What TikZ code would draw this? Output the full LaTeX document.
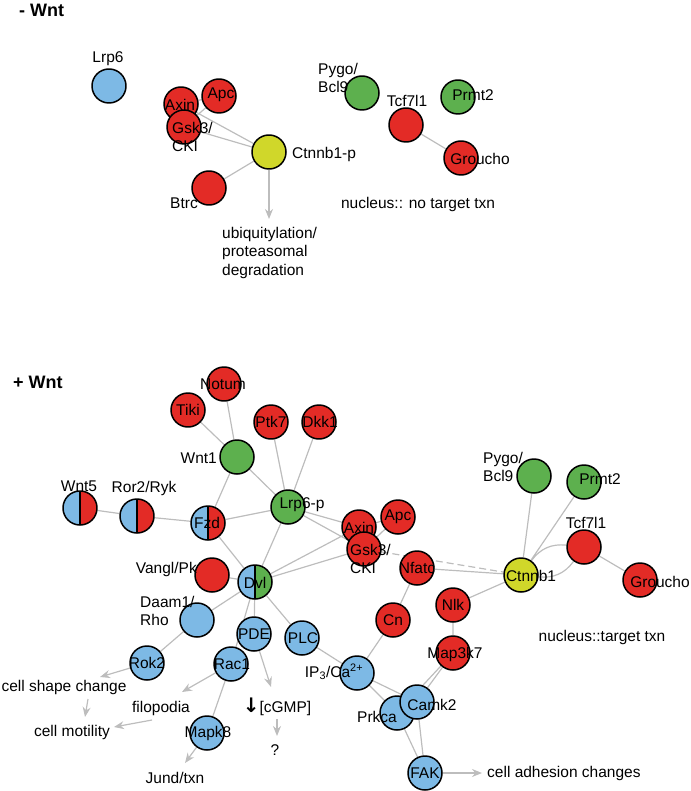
\documentclass[tikz,border=0pt]{standalone}
\usepackage{fontspec}
\setmainfont{Liberation Sans}
\newfontfamily\arrowfont{DejaVu Sans}
\usetikzlibrary{arrows.meta,backgrounds}
\definecolor{molred}{HTML}{E32B26}
\definecolor{molblue}{HTML}{7DB9E5}
\definecolor{molgreen}{HTML}{5DB04E}
\definecolor{molyellow}{HTML}{D0D72A}
\definecolor{edgegray}{HTML}{BDBDBD}
\begin{document}
\begin{tikzpicture}[x=1pt, y=-1pt, font=\fontsize{15.5}{18.5}\selectfont, line join=round, line cap=round,
    >={Stealth[length=10pt,width=8pt]},
    mol/.style={circle, draw=black, line width=1.5pt, fill=#1, minimum size=34pt, inner sep=0pt},
    splitmol/.style 2 args={circle, draw=black, line width=1.5pt, minimum size=34pt, inner sep=0pt,
        path picture={\fill[#1] (path picture bounding box.south west) rectangle (path picture bounding box.north);
            \fill[#2] (path picture bounding box.south) rectangle (path picture bounding box.north east);
            \draw[line width=1.3pt] (path picture bounding box.south) -- (path picture bounding box.north);}},
    txt/.style={inner sep=0pt},
    link/.style={draw=edgegray, line width=1.2pt},
    arr/.style={link, ->}]
    \useasboundingbox (0,0) rectangle (690,791);
    % - Wnt
    \node[txt, anchor=west, font=\fontsize{18}{20}\selectfont\bfseries] (offtitle) at (19,10) {- Wnt};
    \node[mol=molblue] (tlrp) at (109,86) {};
    \node[mol=molred] (taxin) at (181,104) {};
    \node[mol=molred] (tapc) at (219,96) {};
    \node[mol=molred] (tgsk) at (184,127) {};
    \node[mol=molyellow] (tctnp) at (269,152) {};
    \node[mol=molred] (tbtrc) at (209,188) {};
    \node[mol=molgreen] (tpygo) at (362,93) {};
    \node[mol=molgreen] (tprmt) at (458,97) {};
    \node[mol=molred] (ttcf) at (406,125) {};
    \node[mol=molred] (tgro) at (461,158) {};
    \coordinate (tdeg) at (269,219);
    \node[txt] (ltlrp) at (108,59) {Lrp6};
    \node[txt] (ltaxin) at (180,105) {Axin};
    \node[txt] (ltapc) at (221,95) {Apc};
    \node[txt, anchor=west, align=left] (ltgsk) at (172,137) {Gsk3/\\CKI};
    \node[txt, anchor=west] (ltctnp) at (292,154) {Ctnnb1-p};
    \node[txt, anchor=east] (ltbtrc) at (198,203) {Btrc};
    \node[txt, anchor=north west, align=left] (ltdeg) at (222,227) {ubiquitylation/\\proteasomal\\degradation};
    \node[txt, anchor=west, align=left] (ltpygo) at (318,78) {Pygo/\\Bcl9};
    \node[txt] (ltprmt) at (473,95) {Prmt2};
    \node[txt] (lttcf) at (407,101) {Tcf7l1};
    \node[txt] (ltgro) at (480,159) {Groucho};
    \node[txt] (ltnuc) at (418,204) {nucleus:: no target txn};
    \begin{scope}[on background layer]
        \draw[link] (taxin) -- (tapc) (tapc) -- (tgsk) (taxin) -- (tctnp) (tgsk) -- (tctnp) (tbtrc) -- (tctnp) (ttcf) -- (tgro);
        \draw[arr] (tctnp) -- (tdeg);
    \end{scope}
    % + Wnt
    \node[txt, anchor=west, font=\fontsize{18}{20}\selectfont\bfseries] (ontitle) at (13,382) {+ Wnt};
    \node[mol=molred] (notum) at (224,384) {};
    \node[mol=molred] (tiki) at (188,410) {};
    \node[mol=molred] (ptk) at (271,422) {};
    \node[mol=molred] (dkk) at (319,422) {};
    \node[mol=molgreen] (wnta) at (237,457) {};
    \node[mol=molgreen] (lrp) at (288,507) {};
    \node[splitmol={molblue}{molred}] (wntb) at (80,508) {};
    \node[splitmol={molblue}{molred}] (ror) at (137,516) {};
    \node[splitmol={molblue}{molred}] (fzd) at (208,523) {};
    \node[mol=molred] (vangl) at (212,575) {};
    \node[splitmol={molblue}{molgreen}] (dvl) at (255,582) {};
    \node[mol=molred] (axin) at (359,527) {};
    \node[mol=molred] (apc) at (398,517) {};
    \node[mol=molred] (gsk) at (364,549) {};
    \node[mol=molred] (nfatc) at (417,568) {};
    \node[mol=molyellow] (ctn) at (521,575) {};
    \node[mol=molgreen] (pygo) at (534,476) {};
    \node[mol=molgreen] (prmt) at (584,482) {};
    \node[mol=molred] (tcf) at (584,547) {};
    \node[mol=molred] (gro) at (640,580) {};
    \node[mol=molred] (nlk) at (453,605) {};
    \node[mol=molred] (cn) at (393,620) {};
    \node[mol=molred] (tak) at (453,653) {};
    \node[mol=molblue] (daam) at (197,620) {};
    \node[mol=molblue] (pde) at (254,634) {};
    \node[mol=molblue] (plc) at (302,638) {};
    \node[mol=molblue] (rok) at (147,663) {};
    \node[mol=molblue] (rac) at (231,664) {};
    \node[mol=molblue] (jnk) at (207,733) {};
    \node[mol=molblue] (ipca) at (357,673) {};
    \node[mol=molblue] (prkca) at (397,713) {};
    \node[mol=molblue] (camk) at (417,702) {};
    \node[mol=molblue] (fak) at (425,773) {};
    \coordinate (shapetip) at (100,677);
    \coordinate (shapea) at (88,699);
    \coordinate (shapeb) at (85,717);
    \coordinate (filotip) at (182,692);
    \coordinate (filoa) at (152,720);
    \coordinate (filob) at (114,727);
    \coordinate (jundtip) at (185,763);
    \coordinate (cgmptip) at (271,687);
    \coordinate (cgmpa) at (277,719);
    \coordinate (cgmpb) at (277,736);
    \coordinate (adhtip) at (482,773);
    \node[txt] (lnotum) at (223,384) {Notum};
    \node[txt] (ltiki) at (188,410) {Tiki};
    \node[txt] (lptk) at (271,422) {Ptk7};
    \node[txt] (ldkk) at (320,422) {Dkk1};
    \node[txt, anchor=east] (lwnta) at (217,458) {Wnt1};
    \node[txt] (llrp) at (302,505) {Lrp6-p};
    \node[txt] (lwntb) at (79,486) {Wnt5};
    \node[txt] (lror) at (144,488) {Ror2/Ryk};
    \node[txt] (lfzd) at (207,523) {Fzd};
    \node[txt, anchor=east] (lvangl) at (197,569) {Vangl/Pk};
    \node[txt] (ldvl) at (255,583) {Dvl};
    \node[txt] (laxin) at (359,528) {Axin};
    \node[txt] (lapc) at (398,517) {Apc};
    \node[txt, anchor=west, align=left] (lgsk) at (350,559) {Gsk3/\\CKI};
    \node[txt] (lnfatc) at (417,568) {Nfatc};
    \node[txt] (lctn) at (531,576) {Ctnnb1};
    \node[txt, anchor=west, align=left] (lpygo) at (483,467) {Pygo/\\Bcl9};
    \node[txt] (lprmt) at (600,479) {Prmt2};
    \node[txt] (ltcf) at (586,523) {Tcf7l1};
    \node[txt] (lgro) at (660,582) {Groucho};
    \node[txt] (lnlk) at (453,605) {Nlk};
    \node[txt] (lcn) at (393,620) {Cn};
    \node[txt] (ltak) at (455,654) {Map3k7};
    \node[txt] (lnuc) at (602,637) {nucleus::target txn};
    \node[txt, anchor=west, align=left] (ldaam) at (140,611) {Daam1/\\Rho};
    \node[txt] (lpde) at (254,634) {PDE};
    \node[txt] (lplc) at (303,638) {PLC};
    \node[txt] (lrok) at (147,663) {Rok2};
    \node[txt] (lrac) at (232,664) {Rac1};
    \node[txt] (ljnk) at (208,733) {Mapk8};
    \node[txt] (lipca) at (334,672) {IP\textsubscript{3}/Ca\textsuperscript{2+}};
    \node[txt] (lcamk) at (432,705) {Camk2};
    \node[txt] (lprkca) at (377,717) {Prkca};
    \node[txt] (lfak) at (425,773) {FAK};
    \node[txt, anchor=west] (ladh) at (487,773) {cell adhesion changes};
    \node[txt] (lshape) at (64,687) {cell shape change};
    \node[txt] (lmot) at (72,732) {cell motility};
    \node[txt] (lfilo) at (161,708) {filopodia};
    \node[txt] (lcgmp) at (277,707) {{\arrowfont\bfseries\fontsize{20}{20}\selectfont ↓}[cGMP]};
    \node[txt] (lq) at (275,750) {?};
    \node[txt] (ljund) at (175,778) {Jund/txn};
    \begin{scope}[on background layer]
        \draw[link] (notum) -- (wnta) (tiki) -- (wnta) (wnta) -- (lrp) (wnta) -- (fzd)
            (ptk) -- (lrp) (dkk) -- (lrp) (wntb) -- (ror) (ror) -- (fzd) (fzd) -- (lrp);
        \draw[link] (fzd) -- (dvl) (lrp) -- (dvl) (lrp) -- (axin) (lrp) -- (gsk) (vangl) -- (dvl)
            (dvl) -- (axin) (dvl) -- (gsk) (axin) -- (apc) (apc) -- (gsk);
        \draw[link, dash pattern=on 7pt off 4pt] (gsk) -- (ctn);
        \draw[link] (nfatc) -- (ctn) (ctn) -- (pygo) (ctn) -- (prmt) (tcf) -- (gro)
            (ctn) to[bend left=30] (tcf) (ctn) to[bend right=30] (tcf);
        \draw[link] (ctn) -- (nlk) (nlk) -- (tak) (nfatc) -- (cn) (cn) -- (ipca) (plc) -- (ipca)
            (ipca) -- (prkca) (ipca) -- (camk) (tak) -- (prkca) (tak) -- (camk)
            (prkca) -- (fak) (camk) -- (fak);
        \draw[link] (dvl) -- (daam) (dvl) -- (pde) (dvl) -- (rac) (dvl) -- (plc)
            (daam) -- (rok) (rac) -- (jnk);
        \draw[arr] (rok) -- (shapetip);
        \draw[arr] (shapea) -- (shapeb);
        \draw[arr] (rac) -- (filotip);
        \draw[arr] (filoa) -- (filob);
        \draw[arr] (jnk) -- (jundtip);
        \draw[arr] (pde) -- (cgmptip);
        \draw[arr] (cgmpa) -- (cgmpb);
        \draw[arr] (fak) -- (adhtip);
    \end{scope}
\end{tikzpicture}
\end{document}
